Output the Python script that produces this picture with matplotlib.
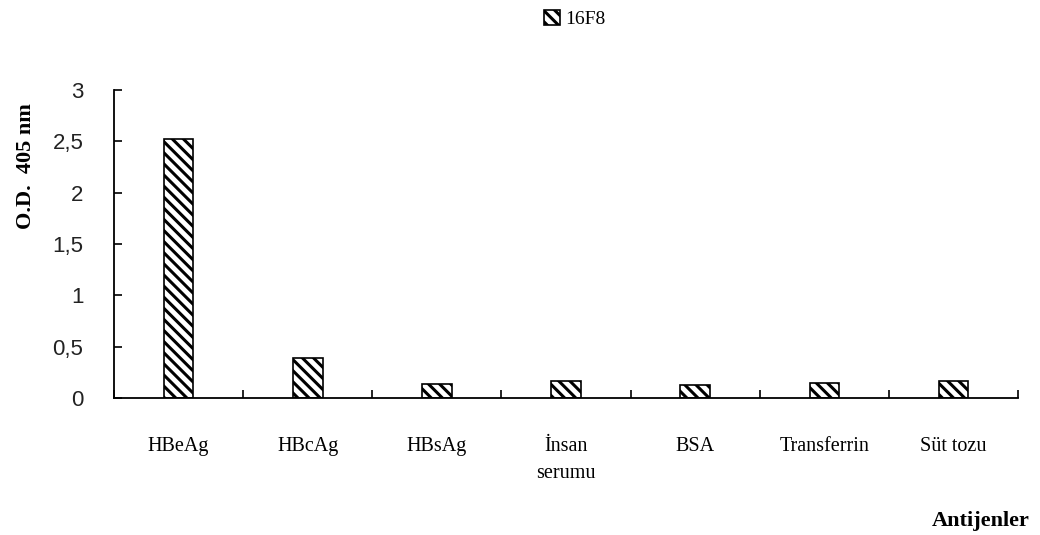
import matplotlib.pyplot as plt
from matplotlib.patches import Patch
from matplotlib.ticker import FuncFormatter

categories = ["HBeAg", "HBcAg", "HBsAg", "İnsan\nserumu", "BSA", "Transferrin", "Süt tozu"]
od_values = [2.52, 0.39, 0.135, 0.165, 0.13, 0.15, 0.165]
series_name = "16F8"

plt.rcParams["hatch.linewidth"] = 2.2

fig = plt.figure(figsize=(10.4, 5.35), dpi=100)
ax = fig.add_axes([0.1096, 0.256, 0.8694, 0.576])

x = list(range(len(categories)))
ax.bar(x, od_values, width=0.23, color="white", edgecolor="black",
       hatch="\\\\\\", linewidth=1.2)

ax.set_xlim(-0.5, len(categories) - 0.5)
ax.set_ylim(0, 3)
ax.set_yticks([0, 0.5, 1, 1.5, 2, 2.5, 3])
ax.yaxis.set_major_formatter(FuncFormatter(lambda v, p: f"{v:g}".replace(".", ",")))
ax.set_xticks(x)
ax.set_xticklabels(categories, family="Liberation Serif", fontsize=14.5,
                   va="top", linespacing=1.6)
ax.set_xticks([i - 0.5 for i in range(len(categories) + 1)], minor=True)
ax.tick_params(axis="x", which="major", length=0, pad=28)
ax.tick_params(axis="x", which="minor", direction="in", length=6, width=1.2)
ax.tick_params(axis="y", direction="in", length=6, width=1.2, pad=22)
for lab in ax.get_yticklabels():
    lab.set_family("Liberation Sans")
    lab.set_fontsize(16)
    lab.set_color("#222222")

for side in ("top", "right"):
    ax.spines[side].set_visible(False)
for side in ("left", "bottom"):
    ax.spines[side].set_linewidth(1.3)

fig.text(0.025, 0.69, "O.D.  405 nm", rotation=90, ha="center", va="center",
         family="Liberation Serif", fontweight="bold", fontsize=16)
fig.text(0.99, 0.027, "Antijenler", ha="right", va="center",
         family="Liberation Serif", fontweight="bold", fontsize=16)

handle = Patch(facecolor="white", edgecolor="black", hatch="\\\\\\", linewidth=1.2)
fig.legend([handle], [series_name], loc="center", bbox_to_anchor=(0.553, 0.965),
           frameon=False, handlelength=0.8, handleheight=0.8, handletextpad=0.3,
           prop={"family": "Liberation Serif", "size": 14})

fig.savefig("out.png", dpi=100)
